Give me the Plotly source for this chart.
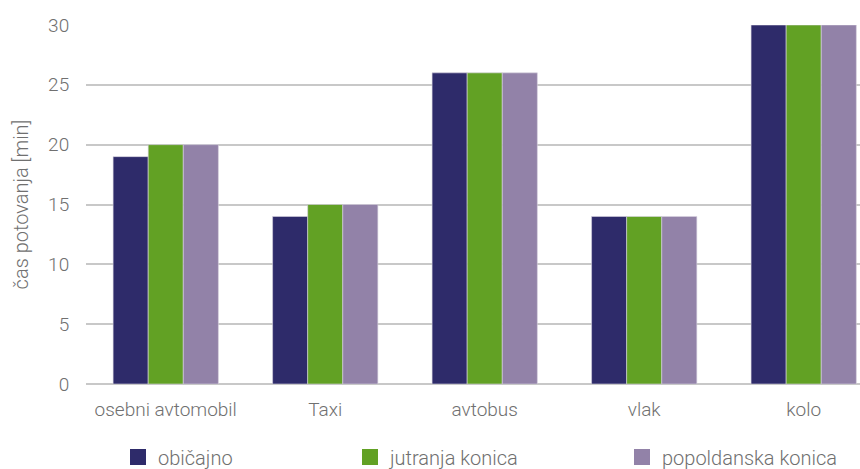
import plotly.graph_objects as go

categories = ["osebni avtomobil", "Taxi", "avtobus", "vlak", "kolo"]
obicajno = [19, 14, 26, 14, 30]
jutranja = [20, 15, 26, 14, 30]
popoldanska = [20, 15, 26, 14, 30]
series_names = ["običajno", "jutranja konica", "popoldanska konica"]
colors = ["#2E2B6A", "#62A124", "#9282A8"]

FONT = dict(family="Roboto Light, Roboto", size=19, color="#707070", weight=300)

fig = go.Figure()
legend_ids = ["legend", "legend2", "legend3"]
for i, (name, vals) in enumerate(zip(series_names, [obicajno, jutranja, popoldanska])):
    fig.add_trace(go.Bar(
        x=categories, y=vals, name=name,
        marker=dict(color=colors[i], line=dict(color="#d8d4e0", width=0.6)),
        showlegend=False, legendgroup=name,
    ))
    # legend entry with a larger square swatch
    fig.add_trace(go.Scatter(
        x=[None], y=[None], mode="markers", name=name, legendgroup=name,
        marker=dict(symbol="square", size=16, color=colors[i], line=dict(width=0)),
        legend=legend_ids[i], showlegend=True, hoverinfo="skip",
    ))

leg_common = dict(orientation="h", xref="container", yref="container",
                  yanchor="middle", y=12/469, font=dict(FONT, size=20),
                  bgcolor="rgba(0,0,0,0)", borderwidth=0, itemsizing="trace")
fig.update_layout(
    width=860, height=469,
    margin=dict(l=86, r=0, t=25, b=85, autoexpand=False),
    paper_bgcolor="white", plot_bgcolor="white",
    font=FONT, showlegend=True,
    barmode="group", bargap=0.34, bargroupgap=0,
    legend=dict(leg_common, x=118 / 860),
    legend2=dict(leg_common, x=350 / 860),
    legend3=dict(leg_common, x=622 / 860),
    xaxis=dict(range=[-0.5, 4.353], showgrid=False, showline=False,
               tickfont=dict(FONT, size=19), ticks="outside", ticklen=8, tickcolor="white"),
    yaxis=dict(range=[0, 30], dtick=5, showgrid=True, gridcolor="#c8c8c8", gridwidth=2,
               zeroline=True, zerolinecolor="#c8c8c8", zerolinewidth=2,
               ticks="outside", ticklen=12, tickcolor="white",
               tickfont=dict(FONT, size=19),
               title=dict(text="čas potovanja [min]", font=dict(FONT, size=20), standoff=14)),
)
fig.write_html("out.html", config={"displayModeBar": False},
               post_script="document.body.style.margin='0';")
